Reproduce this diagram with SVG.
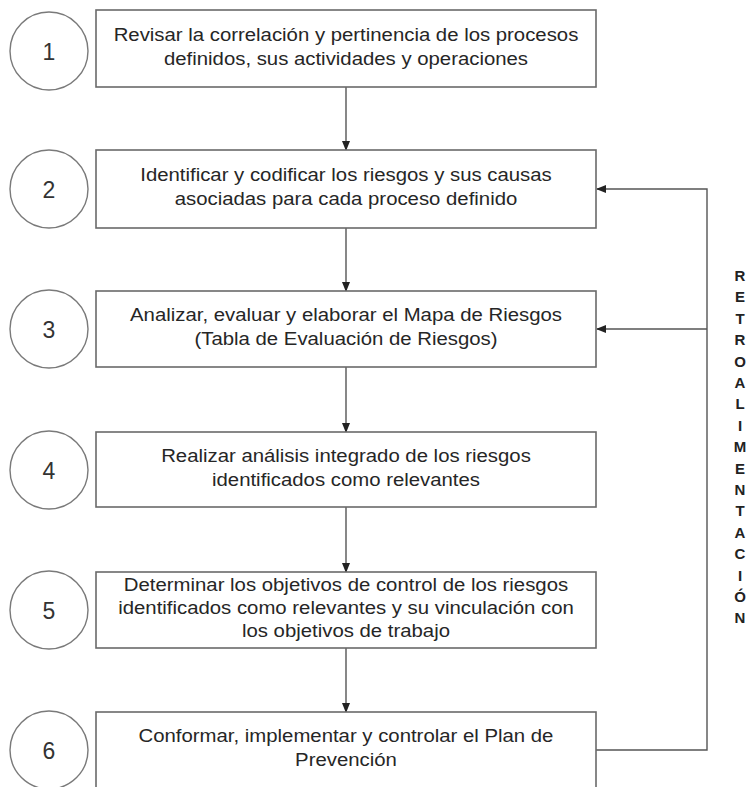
<svg xmlns="http://www.w3.org/2000/svg" width="748" height="787" viewBox="0 0 748 787">
<style>
.box{fill:#fff;stroke:#6a6a6a;stroke-width:1.6}
.cir{fill:#fff;stroke:#7a7a7a;stroke-width:1.4}
.num{font-family:"Liberation Sans",Arial,sans-serif;font-size:23px;fill:#333;text-anchor:middle}
.t{font-family:"Liberation Sans",Arial,sans-serif;font-size:18.5px;fill:#262626;text-anchor:middle}
.v{font-family:"Liberation Sans",Arial,sans-serif;font-size:15px;font-weight:bold;fill:#222;text-anchor:middle}
.c{fill:none;stroke:#555;stroke-width:1.4}
</style>
<defs>
<marker id="ah" markerWidth="10" markerHeight="8" refX="9" refY="4" orient="auto" markerUnits="userSpaceOnUse">
<path d="M0,0 L10,4 L0,8 Z" fill="#222"/>
</marker>
</defs>
<rect width="748" height="787" fill="#fff"/>
<g id="connectors">
<line class="c" x1="346" y1="87" x2="346" y2="150" marker-end="url(#ah)"/>
<line class="c" x1="346" y1="228" x2="346" y2="291" marker-end="url(#ah)"/>
<line class="c" x1="346" y1="367" x2="346" y2="432" marker-end="url(#ah)"/>
<line class="c" x1="346" y1="507" x2="346" y2="572" marker-end="url(#ah)"/>
<line class="c" x1="346" y1="648" x2="346" y2="712" marker-end="url(#ah)"/>
<polyline class="c" points="596,750 707,750 707,189 597,189" marker-end="url(#ah)"/>
<line class="c" x1="707" y1="329" x2="597" y2="329" marker-end="url(#ah)"/>
</g>
<g id="step1">
<circle class="cir" cx="49" cy="51" r="39"/>
<text class="num" x="49" y="60">1</text>
<rect class="box" x="96" y="10" width="500" height="77"/>
<g transform="matrix(1.1,0,0,1,-34.6,0)">
<text class="t" x="346" y="41">Revisar la correlación y pertinencia de los procesos</text>
<text class="t" x="346" y="65">definidos, sus actividades y operaciones</text>
</g>
</g>
<g id="step2">
<circle class="cir" cx="49" cy="189" r="39"/>
<text class="num" x="49" y="197.5">2</text>
<rect class="box" x="96" y="150" width="500" height="78"/>
<g transform="matrix(1.1,0,0,1,-34.6,0)">
<text class="t" x="346" y="181.5">Identificar y codificar los riesgos y sus causas</text>
<text class="t" x="346" y="205.5">asociadas para cada proceso definido</text>
</g>
</g>
<g id="step3">
<circle class="cir" cx="49" cy="329" r="39"/>
<text class="num" x="49" y="337.5">3</text>
<rect class="box" x="96" y="291" width="500" height="76"/>
<g transform="matrix(1.1,0,0,1,-34.6,0)">
<text class="t" x="346" y="321.5">Analizar, evaluar y elaborar el Mapa de Riesgos</text>
<text class="t" x="346" y="345.5">(Tabla de Evaluación de Riesgos)</text>
</g>
</g>
<g id="step4">
<circle class="cir" cx="49" cy="470" r="39"/>
<text class="num" x="49" y="478.5">4</text>
<rect class="box" x="96" y="432" width="500" height="75"/>
<g transform="matrix(1.1,0,0,1,-34.6,0)">
<text class="t" x="346" y="462">Realizar análisis integrado de los riesgos</text>
<text class="t" x="346" y="486">identificados como relevantes</text>
</g>
</g>
<g id="step5">
<circle class="cir" cx="49" cy="610" r="39"/>
<text class="num" x="49" y="618.5">5</text>
<rect class="box" x="96" y="572" width="500" height="76"/>
<g transform="matrix(1.1,0,0,1,-34.6,0)">
<text class="t" x="346" y="591.5">Determinar los objetivos de control de los riesgos</text>
<text class="t" x="346" y="614.5">identificados como relevantes y su vinculación con</text>
<text class="t" x="346" y="637.5">los objetivos de trabajo</text>
</g>
</g>
<g id="step6">
<circle class="cir" cx="49" cy="750" r="39"/>
<text class="num" x="49" y="758.5">6</text>
<rect class="box" x="96" y="712" width="500" height="77"/>
<g transform="matrix(1.1,0,0,1,-34.6,0)">
<text class="t" x="346" y="742.5">Conformar, implementar y controlar el Plan de</text>
<text class="t" x="346" y="766.5">Prevención</text>
</g>
</g>
<g id="feedback-label">
<text class="v" x="740" y="281">R</text>
<text class="v" x="740" y="302.4">E</text>
<text class="v" x="740" y="323.8">T</text>
<text class="v" x="740" y="345.2">R</text>
<text class="v" x="740" y="366.6">O</text>
<text class="v" x="740" y="388">A</text>
<text class="v" x="740" y="409.4">L</text>
<text class="v" x="740" y="430.8">I</text>
<text class="v" x="740" y="452.2">M</text>
<text class="v" x="740" y="473.6">E</text>
<text class="v" x="740" y="495">N</text>
<text class="v" x="740" y="516.4">T</text>
<text class="v" x="740" y="537.8">A</text>
<text class="v" x="740" y="559.2">C</text>
<text class="v" x="740" y="580.6">I</text>
<text class="v" x="740" y="602">Ó</text>
<text class="v" x="740" y="623.4">N</text>
</g>
</svg>
